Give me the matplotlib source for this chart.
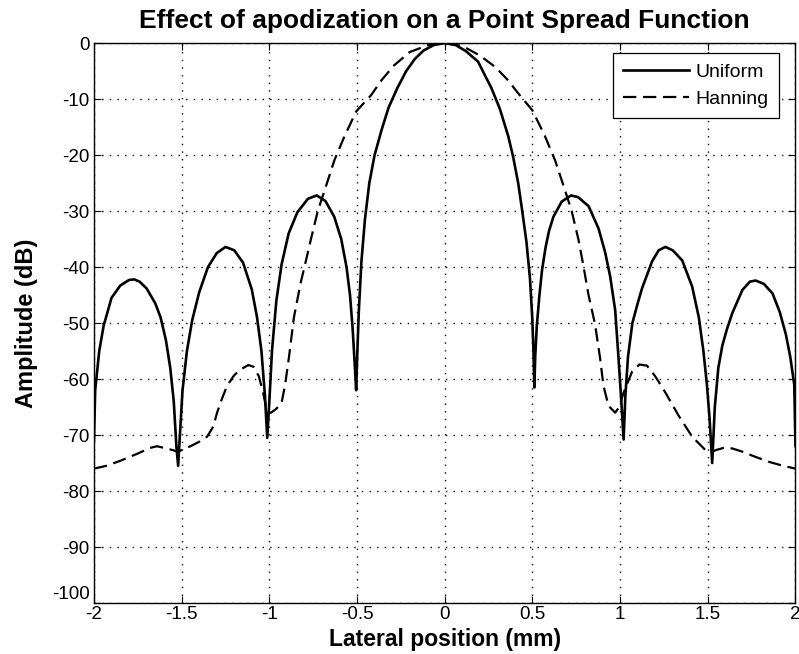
"""
Point spread function: uniform vs Hanning apodization (MATLAB-style figure).
"""

import matplotlib
matplotlib.use("Agg")
import matplotlib.pyplot as plt

plt.rcParams["font.family"] = ["Liberation Sans", "DejaVu Sans"]
plt.rcParams["axes.unicode_minus"] = False

# Uniform apodization, lateral position (mm) and amplitude (dB)
uniform_x = [
    -2.0, -1.993, -1.97, -1.945, -1.9, -1.85, -1.8, -1.77, -1.74, -1.7,
    -1.65, -1.62, -1.59, -1.565, -1.545, -1.53, -1.52, -1.51, -1.495, -1.47,
    -1.44, -1.4, -1.35, -1.3, -1.25, -1.2, -1.15, -1.1, -1.07, -1.045,
    -1.025, -1.012, -1.0, -0.985, -0.96, -0.93, -0.89, -0.84, -0.78, -0.73,
    -0.68, -0.63, -0.59, -0.56, -0.54, -0.525, -0.512, -0.505, -0.498, -0.49,
    -0.475, -0.455, -0.43, -0.4, -0.36, -0.32, -0.27, -0.22, -0.17, -0.12,
    -0.06, 0.0,
    0.06, 0.12, 0.19, 0.266, 0.314, 0.362, 0.39, 0.419, 0.442, 0.466,
    0.486, 0.499, 0.506, 0.511, 0.516, 0.525, 0.54, 0.555, 0.575, 0.595,
    0.62, 0.667, 0.72, 0.76, 0.82, 0.877, 0.915, 0.943, 0.972, 0.991,
    1.005, 1.02, 1.03, 1.045, 1.07, 1.1, 1.125, 1.182, 1.22, 1.258,
    1.3, 1.354, 1.411, 1.449, 1.475, 1.495, 1.51, 1.525, 1.54, 1.56,
    1.583, 1.61, 1.64, 1.697, 1.74, 1.773, 1.82, 1.869, 1.91, 1.945,
    1.97, 1.993, 2.0,
]
uniform_db = [
    -71.0, -62.0, -55.0, -50.5, -45.5, -43.3, -42.3, -42.2, -42.6, -43.8,
    -46.5, -49.0, -53.0, -58.0, -64.0, -72.0, -75.5, -70.0, -62.0, -55.0,
    -49.5, -44.5, -40.0, -37.5, -36.4, -37.0, -39.2, -44.0, -49.0, -55.0,
    -63.0, -70.5, -64.0, -55.0, -46.0, -39.5, -34.0, -30.2, -27.8, -27.2,
    -28.2, -31.0, -35.0, -40.0, -45.0, -51.0, -58.0, -62.0, -55.0, -48.0,
    -39.0, -31.5, -25.0, -20.0, -15.5, -11.5, -8.0, -5.0, -2.8, -1.3,
    -0.3, 0.0,
    -0.3, -1.4, -3.3, -8.0, -11.7, -16.6, -20.3, -25.0, -30.0, -35.5,
    -42.0, -49.0, -55.0, -61.5, -56.0, -50.5, -45.0, -40.5, -36.5, -33.5,
    -31.0, -28.3, -27.2, -27.5, -29.1, -33.1, -37.4, -41.6, -47.7, -56.3,
    -63.0, -70.8, -63.0, -56.0, -50.0, -46.5, -43.8, -39.0, -37.0, -36.4,
    -37.0, -38.8, -43.5, -49.0, -55.0, -61.0, -67.0, -75.0, -65.0, -58.0,
    -54.0, -51.0, -48.2, -44.1, -42.6, -42.4, -43.0, -44.7, -48.0, -52.0,
    -56.0, -61.0, -72.0,
]

# Hanning apodization
hanning_x = [
    -2.0, -1.93, -1.85, -1.75, -1.68, -1.64, -1.6, -1.55, -1.52, -1.49,
    -1.45, -1.4, -1.355, -1.32, -1.298, -1.27, -1.241, -1.2, -1.165, -1.12,
    -1.09, -1.06, -1.035, -1.012, -0.99, -0.96, -0.93, -0.91, -0.889, -0.86,
    -0.822, -0.794, -0.762, -0.724, -0.686, -0.629, -0.571, -0.505, -0.42, -0.36,
    -0.29, -0.2, -0.1, 0.0,
    0.1, 0.2, 0.29, 0.36, 0.42, 0.5, 0.57, 0.63, 0.686, 0.724,
    0.762, 0.791, 0.82, 0.857, 0.886, 0.905, 0.934, 0.972, 0.995, 1.02,
    1.068, 1.11, 1.153, 1.2, 1.258, 1.335, 1.411, 1.487, 1.525, 1.545,
    1.6, 1.64, 1.7, 1.755, 1.85, 1.93, 2.0,
]
hanning_db = [
    -76.0, -75.5, -74.6, -73.3, -72.3, -72.0, -72.3, -72.7, -73.0, -72.5,
    -72.0, -71.2, -70.3, -68.5, -66.0, -63.5, -61.2, -59.3, -58.3, -57.5,
    -57.8, -59.5, -62.5, -66.0, -66.0, -65.3, -64.2, -61.0, -56.3, -49.0,
    -42.9, -39.2, -34.9, -30.0, -26.4, -20.9, -16.6, -12.2, -9.3, -6.6,
    -4.0, -1.6, -0.4, 0.0,
    -0.5, -2.2, -4.3, -6.6, -9.0, -12.0, -16.5, -21.0, -26.3, -30.0,
    -35.0, -39.8, -45.0, -50.2, -56.3, -61.2, -64.8, -66.0, -65.0, -62.4,
    -58.7, -57.4, -57.6, -59.5, -62.4, -66.6, -70.3, -72.7, -73.0, -72.7,
    -72.2, -72.4, -73.0, -73.7, -74.8, -75.5, -76.0,
]

x_ticks = [-2, -1.5, -1, -0.5, 0, 0.5, 1, 1.5, 2]
x_tick_labels = ["-2", "-1.5", "-1", "-0.5", "0", "0.5", "1", "1.5", "2"]
y_ticks = list(range(-100, 1, 10))

fig = plt.figure(figsize=(7.99, 6.54), dpi=100)
ax = fig.add_axes([0.1176, 0.078, 0.878, 0.856])

ax.plot(uniform_x, uniform_db, color="black", lw=1.9, label="Uniform")
ax.plot(hanning_x, hanning_db, color="black", lw=1.6,
        linestyle=(0, (6.0, 3.0)), label="Hanning")

ax.set_xlim(-2, 2)
ax.set_ylim(-100, 0)
ax.set_xticks(x_ticks)
ax.set_xticklabels(x_tick_labels)
ax.set_yticks(y_ticks)

# MATLAB look: box, inward ticks, dotted grid
ax.grid(True, linestyle=(0, (1, 4.5)), color="black", lw=1.0)
ax.tick_params(direction="in", top=True, right=True, length=5,
               labelsize=13.5, pad=2)
ax.tick_params(axis="y", pad=3)
for spine in ax.spines.values():
    spine.set_linewidth(1.0)

# lowest y label sits just above the corner, like the original
ax.get_yticklabels()[0].set_verticalalignment("bottom")

ax.set_title("Effect of apodization on a Point Spread Function",
             fontsize=19, fontweight="bold", pad=11)
ax.set_xlabel("Lateral position (mm)", fontsize=16.5, fontweight="bold",
              labelpad=4)
ax.set_ylabel("Amplitude (dB)", fontsize=17, fontweight="bold", labelpad=10)

leg = ax.legend(loc="upper right", bbox_to_anchor=(0.976, 0.982),
                fontsize=14, frameon=True, fancybox=False,
                handlelength=3.4, handletextpad=0.35, borderpad=0.5,
                labelspacing=0.5, borderaxespad=0)
leg.get_frame().set_edgecolor("black")
leg.get_frame().set_linewidth(0.9)
leg.get_frame().set_alpha(1)

plt.savefig("out.png", dpi=100)
plt.close()
